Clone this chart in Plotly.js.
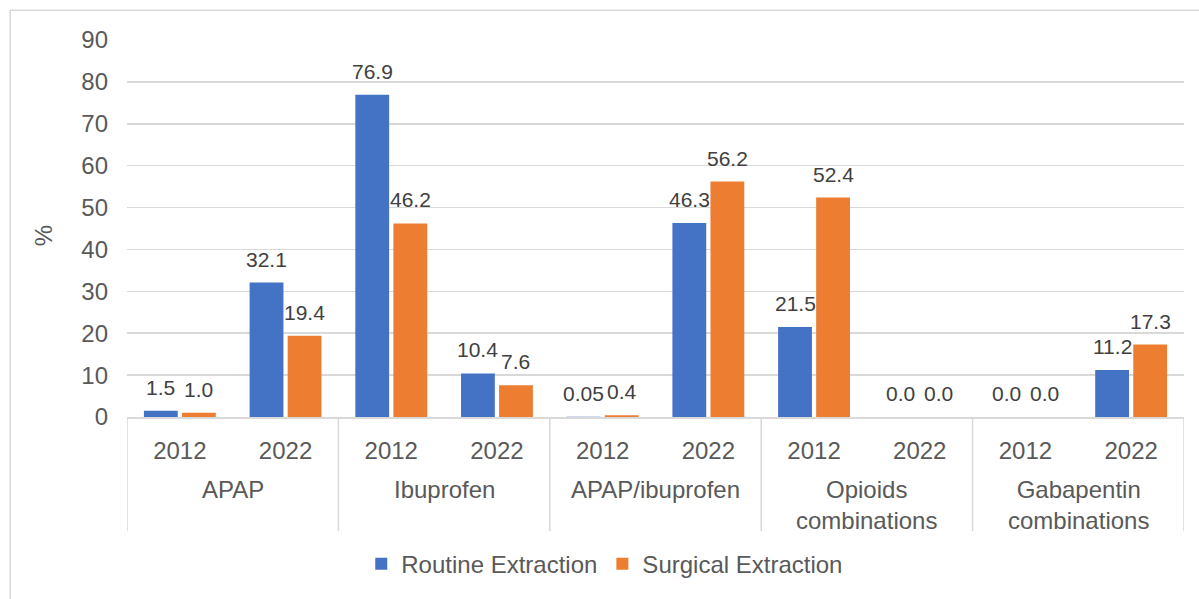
<!DOCTYPE html>
<html>
<head>
<meta charset="utf-8">
<script src="https://cdn.plot.ly/plotly-3.0.1.min.js"></script>
<style>html,body{margin:0;padding:0;background:#fff;}#chart{width:1199px;height:599px;}</style>
</head>
<body>
<div id="chart"></div>
<script>
const groups = ["APAP", "Ibuprofen", "APAP/ibuprofen", "Opioids<br>combinations", "Gabapentin<br>combinations"];
const years = ["2012", "2022"];
const routine = [1.5, 32.1, 76.9, 10.4, 0.05, 46.3, 21.5, 0.0, 0.0, 11.2];
const surgical = [1.0, 19.4, 46.2, 7.6, 0.4, 56.2, 52.4, 0.0, 0.0, 17.3];
const routineLabels = ["1.5", "32.1", "76.9", "10.4", "0.05", "46.3", "21.5", "0.0", "0.0", "11.2"];
const surgicalLabels = ["1.0", "19.4", "46.2", "7.6", "0.4", "56.2", "52.4", "0.0", "0.0", "17.3"];
const seriesNames = ["Routine Extraction", "Surgical Extraction"];
const colors = ["#4472C4", "#ED7D31"];
const yTitle = "%";

// category keys and tick texts
const cats = [], tickText = [];
groups.forEach(g => years.forEach(y => { cats.push(g + " " + y); tickText.push(y); }));

const font = "Liberation Sans, Arial, sans-serif";
const axisFontSize = 24;
const barWidth = 0.32;
const offsets = [-0.34, 0.02];

const mk = (i, vals) => ({
  type: "bar", name: seriesNames[i], x: cats, y: vals,
  width: barWidth, offset: offsets[i],
  marker: {color: colors[i]}, hoverinfo: "y"
});
const data = [mk(0, routine), mk(1, surgical)];

const annotations = [];
[[routine, routineLabels], [surgical, surgicalLabels]].forEach(([vals, labs], s) => {
  vals.forEach((v, k) => annotations.push({
    x: k + offsets[s] + barWidth / 2, y: v, xref: "x", yref: "y",
    text: labs[k], showarrow: false, yanchor: "bottom", yshift: 10,
    font: {family: font, size: 21, color: "#404040"}
  }));
});
groups.forEach((g, i) => annotations.push({
  x: 2 * i + 0.5, y: -0.15, xref: "x", yref: "paper", text: g, showarrow: false,
  yanchor: "top", font: {family: font, size: axisFontSize, color: "#595959"}
}));
annotations.push({
  x: -0.0795, y: 0.482, xref: "paper", yref: "paper", text: yTitle, showarrow: false,
  textangle: -90, xanchor: "center", yanchor: "middle",
  font: {family: font, size: axisFontSize, color: "#595959"}
});

const shapes = [];
for (let i = 0; i <= groups.length; i++) {
  shapes.push({type: "line", xref: "x", yref: "paper", x0: 2 * i - 0.5, x1: 2 * i - 0.5,
               y0: 0, y1: -0.303, line: {color: "#d9d9d9", width: 1.5}});
}
shapes.push({type: "rect", xref: "paper", yref: "paper", x0: -0.1105, x1: 1.05, y0: -0.6, y1: 1.079,
             line: {color: "#d9d9d9", width: 1.5}, fillcolor: "rgba(0,0,0,0)", layer: "below"});

const layout = {
  width: 1199, height: 599,
  margin: {l: 127, r: 15, t: 40, b: 179},
  paper_bgcolor: "#fff", plot_bgcolor: "#fff",
  font: {family: font, size: axisFontSize, color: "#595959"},
  barmode: "group",
  showlegend: true,
  legend: {orientation: "h", x: 0.452, xanchor: "center", y: -0.39, yanchor: "middle",
           font: {size: axisFontSize, color: "#595959"}, itemwidth: 30},
  xaxis: {type: "category", range: [-0.5, cats.length - 0.5], showgrid: false, showline: true,
          linecolor: "#d9d9d9", linewidth: 1.5, ticks: "", tickvals: cats, ticktext: tickText,
          ticklabelstandoff: 12, tickfont: {size: axisFontSize, color: "#595959"}},
  yaxis: {range: [0, 90], dtick: 10, showgrid: true, gridcolor: "#d9d9d9", gridwidth: 1.5,
          zeroline: false, showline: false, ticks: "", ticklabelstandoff: 18,
          tickfont: {size: axisFontSize, color: "#595959"}},
  annotations: annotations,
  shapes: shapes
};
Plotly.newPlot("chart", data, layout, {displayModeBar: false, staticPlot: true});
</script>
</body>
</html>
